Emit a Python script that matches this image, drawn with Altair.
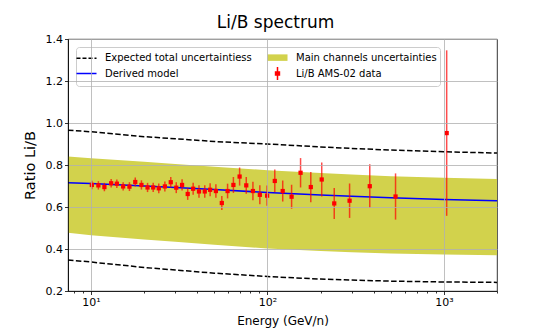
import altair as alt
import pandas as pd

# ---------------- data ----------------
data_energy = [10.1, 11.0, 11.9, 13.0, 14.0, 15.2, 16.5, 17.8, 19.3, 20.9, 22.5, 24.2, 26.2,
               28.3, 30.4, 32.8, 35.3, 37.9, 40.9, 44.1, 47.3, 51.0, 55.1, 59.4, 64.1, 69.5,
               75.8, 82.7, 90.5, 99.5, 110, 122, 137, 154, 176, 203, 239, 292, 380, 532, 1037]
data_ratio = [0.705, 0.703, 0.695, 0.713, 0.711, 0.698, 0.697, 0.719, 0.705, 0.693, 0.693,
              0.689, 0.698, 0.718, 0.692, 0.705, 0.662, 0.687, 0.674, 0.674, 0.682, 0.676,
              0.619, 0.676, 0.705, 0.745, 0.703, 0.676, 0.658, 0.654, 0.724, 0.676, 0.649,
              0.763, 0.695, 0.731, 0.617, 0.630, 0.699, 0.650, 0.952]
data_err = [0.020, 0.020, 0.020, 0.020, 0.020, 0.020, 0.021, 0.021, 0.022, 0.022, 0.022,
            0.023, 0.024, 0.025, 0.026, 0.027, 0.028, 0.029, 0.030, 0.030, 0.031, 0.032,
            0.033, 0.035, 0.038, 0.043, 0.040, 0.044, 0.045, 0.048, 0.054, 0.050, 0.057,
            0.070, 0.072, 0.081, 0.074, 0.082, 0.104, 0.110, 0.394]

curve_energy = [7.4, 10, 20, 30, 50, 100, 200, 300, 500, 1000, 2000]
model = [0.716, 0.712, 0.700, 0.693, 0.683, 0.669, 0.657, 0.651, 0.644, 0.636, 0.630]
band_high = [0.840, 0.832, 0.815, 0.805, 0.792, 0.775, 0.762, 0.755, 0.746, 0.739, 0.733]
band_low = [0.477, 0.466, 0.445, 0.435, 0.420, 0.402, 0.390, 0.384, 0.379, 0.374, 0.370]
total_high = [0.966, 0.958, 0.935, 0.925, 0.912, 0.900, 0.886, 0.879, 0.871, 0.863, 0.857]
total_low = [0.348, 0.338, 0.312, 0.300, 0.285, 0.269, 0.257, 0.252, 0.247, 0.243, 0.241]

# legend entries (filled column by column: 2 rows x 2 columns)
series_names = ["Expected total uncertaintiess", "Derived model",
                "Main channels uncertainties", "Li/B AMS-02 data"]

x_major = [10, 100, 1000]
x_minor = [8, 9, 20, 30, 40, 50, 60, 70, 80, 90, 200, 300, 400, 500, 600, 700, 800, 900, 2000]
y_ticks = [0.2, 0.4, 0.6, 0.8, 1.0, 1.2, 1.4]

# ---------------- tables ----------------
pts = pd.DataFrame({"E": data_energy, "v": data_ratio, "err": data_err})
pts["lo"] = pts["v"] - pts["err"]
pts["hi"] = pts["v"] + pts["err"]
cur = pd.DataFrame({"E": curve_energy, "model": model, "bh": band_high, "bl": band_low,
                    "th": total_high, "tl": total_low})
leg = pd.DataFrame({"series": series_names})

FONT = "DejaVu Sans"
BAND = "#d2d24c"

xscale = alt.Scale(type="log", domain=[7.4, 2000], nice=False)
yscale = alt.Scale(domain=[0.2, 1.4], nice=False, zero=False)

is_major = "datum.value == 10 || datum.value == 100 || datum.value == 1000"
xaxis = alt.Axis(
    values=x_major + x_minor,
    labelExpr="datum.value == 10 ? '10¹' : datum.value == 100 ? '10²' : datum.value == 1000 ? '10³' : ''",
    tickSize={"condition": {"test": is_major, "value": 3.5}, "value": 2},
    gridOpacity={"condition": {"test": is_major, "value": 1}, "value": 0},
    title="Energy (GeV/n)", titleFontSize=12, labelOverlap=False, labelFlush=False,
    labelPadding=2, titlePadding=8, zindex=1,
)
yaxis = alt.Axis(values=y_ticks, format=".1f", title="Ratio Li/B", titleFontSize=14.5,
                 tickSize=3.5, labelPadding=2, titlePadding=8, zindex=1)

x = alt.X("E:Q", scale=xscale, axis=xaxis)
y_enc = lambda f: alt.Y(f + ":Q", scale=yscale, axis=yaxis)

band = alt.Chart(cur).mark_area(color=BAND, opacity=1).encode(
    x=x, y=y_enc("bl"), y2="bh")
up = alt.Chart(cur).mark_line(color="black", strokeWidth=1.5, strokeDash=[5.5, 2.4]).encode(
    x=x, y=y_enc("th"))
down = alt.Chart(cur).mark_line(color="black", strokeWidth=1.5, strokeDash=[5.5, 2.4]).encode(
    x=x, y=y_enc("tl"))
line = alt.Chart(cur).mark_line(color="blue", strokeWidth=1.5).encode(x=x, y=y_enc("model"))
bars = alt.Chart(pts).mark_rule(color="red", opacity=0.7, strokeWidth=1.5).encode(
    x=x, y=y_enc("lo"), y2="hi")
marks = alt.Chart(pts).mark_point(shape="square", filled=True, size=18, color="red", opacity=1).encode(
    x=x, y=y_enc("v"))

shape_paths = [
    "M-1.54,0L1.54,0",
    "M-1.54,0L1.54,0",
    "M-1.54,-0.5L1.54,-0.5L1.54,0.5L-1.54,0.5Z",
    "M0,-1L0,1M-0.3,-0.22L0.3,-0.22L0.3,0.22L-0.3,0.22Z",
]
fill_range = ["transparent", "transparent", BAND, "red"]
stroke_range = ["black", "blue", "transparent", "red"]
dash_range = [[4, 2], [1, 0], [1, 0], [1, 0]]

lg = alt.Legend(
    title=None, orient="none", legendX=8, legendY=8, columns=2,
    columnPadding=12, rowPadding=0, labelOffset=11, padding=3, labelLimit=400,
    labelFont=FONT, labelFontSize=10, labelColor="black",
    fillColor="rgba(255,255,255,0.85)", strokeColor="#cccccc",
    cornerRadius=3, symbolOpacity=1, symbolSize=169, symbolStrokeWidth=1.5)

legend_layer = alt.Chart(leg).mark_point(opacity=0, filled=False).encode(
    shape=alt.Shape("series:N", scale=alt.Scale(domain=series_names, range=shape_paths), legend=lg),
    fill=alt.Fill("series:N", scale=alt.Scale(domain=series_names, range=fill_range), legend=lg),
    stroke=alt.Stroke("series:N", scale=alt.Scale(domain=series_names, range=stroke_range), legend=lg),
    strokeDash=alt.StrokeDash("series:N", scale=alt.Scale(domain=series_names, range=dash_range), legend=lg),
)

chart = alt.layer(band, up, down, line, bars, marks, legend_layer).properties(
    width=429, height=252,
    title=alt.Title("Li/B spectrum", font=FONT, fontSize=17, fontWeight="normal",
                    color="black", anchor="middle", dx=-7, offset=1),
    autosize=alt.AutoSizeParams(type="none"),
    padding={"left": 60, "top": 31, "right": 48, "bottom": 38},
).configure_axis(
    labelFont=FONT, labelFontSize=11, labelColor="black",
    titleFont=FONT, titleFontWeight="normal", titleColor="black",
    tickColor="black", domainColor="black", domainWidth=0.8, tickWidth=0.8,
    gridColor="#b0b0b0", gridWidth=0.8,
).configure_view(stroke="black", strokeWidth=0.8)

chart.save("out.html", embed_options={"renderer": "svg", "actions": False})
